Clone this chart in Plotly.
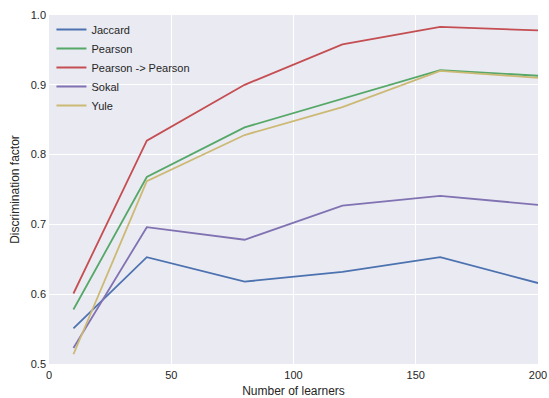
import plotly.graph_objects as go

x_learners = [10, 40, 80, 120, 160, 200]
jaccard = [0.551, 0.653, 0.618, 0.632, 0.653, 0.616]
pearson = [0.578, 0.768, 0.839, 0.880, 0.921, 0.913]
pearson_pearson = [0.601, 0.820, 0.900, 0.958, 0.983, 0.978]
sokal = [0.523, 0.696, 0.678, 0.727, 0.741, 0.728]
yule = [0.514, 0.762, 0.828, 0.868, 0.920, 0.910]

series = [
    ("Jaccard", jaccard, "#4C72B0"),
    ("Pearson", pearson, "#55A868"),
    ("Pearson -> Pearson", pearson_pearson, "#C44E52"),
    ("Sokal", sokal, "#8172B2"),
    ("Yule", yule, "#CCB974"),
]

fig = go.Figure()
for name, vals, col in series:
    fig.add_trace(go.Scatter(x=x_learners, y=vals, mode="lines", name=name,
                             line=dict(color=col, width=1.8)))

fig.update_layout(
    width=549, height=398,
    margin=dict(l=49, r=11, t=15, b=34),
    paper_bgcolor="white",
    plot_bgcolor="#EAEAF2",
    font=dict(family="Liberation Sans, Arial, sans-serif", size=11, color="#262626"),
    showlegend=True,
    legend=dict(x=0.005, y=1.0, xanchor="left", yanchor="top",
                bgcolor="rgba(0,0,0,0)", font=dict(size=11),
                tracegroupgap=0, itemwidth=30),
    xaxis=dict(range=[0, 200], tickvals=[0, 50, 100, 150, 200],
               showgrid=True, gridcolor="white", gridwidth=1, zeroline=False,
               showline=False, ticks="", automargin=False, ticklabelstandoff=3,
               title=dict(text="Number of learners", standoff=6, font=dict(size=12))),
    yaxis=dict(range=[0.5, 1.0], tickvals=[0.5, 0.6, 0.7, 0.8, 0.9, 1.0],
               ticktext=["0.5", "0.6", "0.7", "0.8", "0.9", "1.0"],
               showgrid=True, gridcolor="white", gridwidth=1, zeroline=False,
               showline=False, ticks="", automargin=False, ticklabelstandoff=2,
               title=dict(text="Discrimination factor", standoff=8, font=dict(size=12))),
)

fig.write_html("out.html")
